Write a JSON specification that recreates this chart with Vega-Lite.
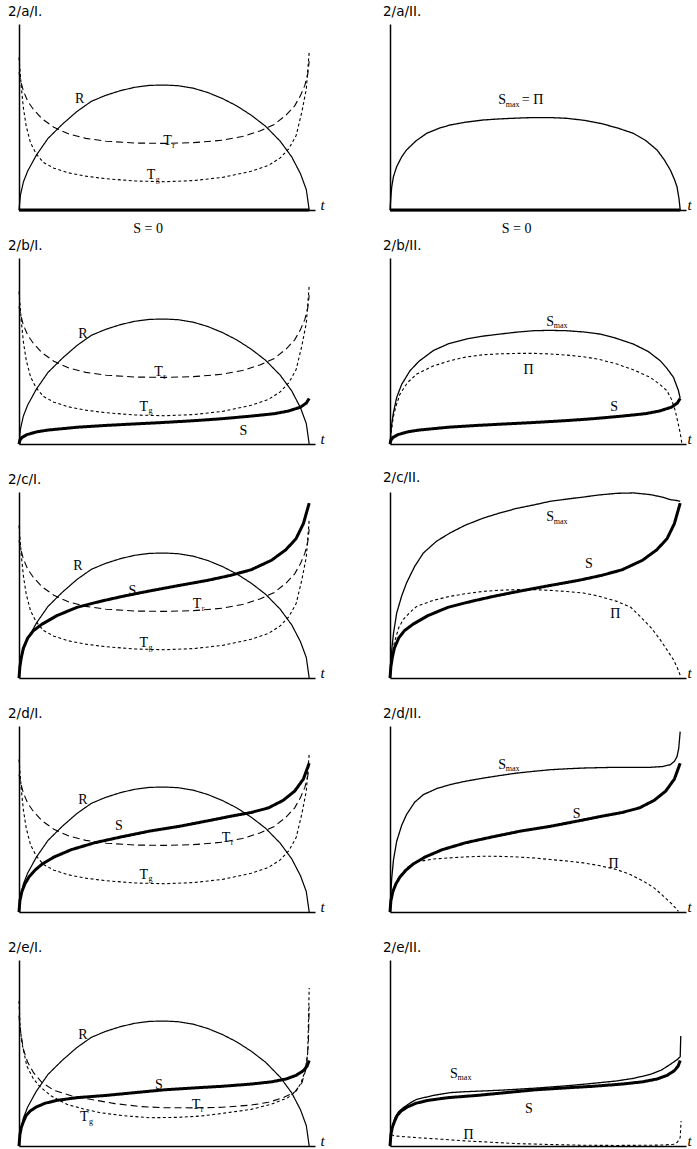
{
"$schema": "https://vega.github.io/schema/vega-lite/v6.json",
"background": "white",
"padding": {"left": 8, "top": 4, "right": 0, "bottom": 0},
"bounds": "flush",
"columns": 2,
"spacing": {"row": 48, "column": 75},
"datasets": {
"curves": [
{"g":"R","s":"R","t":0,"v":0},{"g":"R","s":"R","t":0.005,"v":0.08},{"g":"R","s":"R","t":0.015,"v":0.15},{"g":"R","s":"R","t":0.03,"v":0.21},{"g":"R","s":"R","t":0.06,"v":0.295},{"g":"R","s":"R","t":0.1,"v":0.385},{"g":"R","s":"R","t":0.15,"v":0.462},{"g":"R","s":"R","t":0.2,"v":0.53},{"g":"R","s":"R","t":0.25,"v":0.585},{"g":"R","s":"R","t":0.3,"v":0.617},{"g":"R","s":"R","t":0.35,"v":0.642},{"g":"R","s":"R","t":0.4,"v":0.66},{"g":"R","s":"R","t":0.45,"v":0.67},{"g":"R","s":"R","t":0.5,"v":0.672},{"g":"R","s":"R","t":0.55,"v":0.668},{"g":"R","s":"R","t":0.6,"v":0.655},{"g":"R","s":"R","t":0.65,"v":0.632},{"g":"R","s":"R","t":0.7,"v":0.6},{"g":"R","s":"R","t":0.75,"v":0.56},{"g":"R","s":"R","t":0.8,"v":0.51},{"g":"R","s":"R","t":0.85,"v":0.45},{"g":"R","s":"R","t":0.9,"v":0.37},{"g":"R","s":"R","t":0.94,"v":0.285},{"g":"R","s":"R","t":0.97,"v":0.195},{"g":"R","s":"R","t":0.99,"v":0.11},{"g":"R","s":"R","t":1.0,"v":0},
{"g":"Tr","s":"Tr","t":0,"v":0.74},{"g":"Tr","s":"Tr","t":0.005,"v":0.7},{"g":"Tr","s":"Tr","t":0.015,"v":0.64},{"g":"Tr","s":"Tr","t":0.03,"v":0.585},{"g":"Tr","s":"Tr","t":0.05,"v":0.54},{"g":"Tr","s":"Tr","t":0.08,"v":0.49},{"g":"Tr","s":"Tr","t":0.12,"v":0.445},{"g":"Tr","s":"Tr","t":0.17,"v":0.41},{"g":"Tr","s":"Tr","t":0.23,"v":0.385},{"g":"Tr","s":"Tr","t":0.3,"v":0.37},{"g":"Tr","s":"Tr","t":0.4,"v":0.36},{"g":"Tr","s":"Tr","t":0.5,"v":0.358},{"g":"Tr","s":"Tr","t":0.6,"v":0.362},{"g":"Tr","s":"Tr","t":0.7,"v":0.375},{"g":"Tr","s":"Tr","t":0.77,"v":0.395},{"g":"Tr","s":"Tr","t":0.83,"v":0.425},{"g":"Tr","s":"Tr","t":0.88,"v":0.46},{"g":"Tr","s":"Tr","t":0.92,"v":0.51},{"g":"Tr","s":"Tr","t":0.95,"v":0.56},{"g":"Tr","s":"Tr","t":0.97,"v":0.615},{"g":"Tr","s":"Tr","t":0.985,"v":0.67},{"g":"Tr","s":"Tr","t":0.995,"v":0.73},{"g":"Tr","s":"Tr","t":1.0,"v":0.8},
{"g":"Tg","s":"Tg","t":0,"v":0.82},{"g":"Tg","s":"Tg","t":0.003,"v":0.76},{"g":"Tg","s":"Tg","t":0.008,"v":0.66},{"g":"Tg","s":"Tg","t":0.015,"v":0.55},{"g":"Tg","s":"Tg","t":0.025,"v":0.45},{"g":"Tg","s":"Tg","t":0.04,"v":0.36},{"g":"Tg","s":"Tg","t":0.06,"v":0.3},{"g":"Tg","s":"Tg","t":0.085,"v":0.255},{"g":"Tg","s":"Tg","t":0.12,"v":0.225},{"g":"Tg","s":"Tg","t":0.17,"v":0.2},{"g":"Tg","s":"Tg","t":0.23,"v":0.182},{"g":"Tg","s":"Tg","t":0.3,"v":0.168},{"g":"Tg","s":"Tg","t":0.4,"v":0.156},{"g":"Tg","s":"Tg","t":0.5,"v":0.152},{"g":"Tg","s":"Tg","t":0.6,"v":0.158},{"g":"Tg","s":"Tg","t":0.7,"v":0.175},{"g":"Tg","s":"Tg","t":0.8,"v":0.208},{"g":"Tg","s":"Tg","t":0.86,"v":0.24},{"g":"Tg","s":"Tg","t":0.9,"v":0.28},{"g":"Tg","s":"Tg","t":0.93,"v":0.33},{"g":"Tg","s":"Tg","t":0.955,"v":0.4},{"g":"Tg","s":"Tg","t":0.975,"v":0.53},{"g":"Tg","s":"Tg","t":0.99,"v":0.65},{"g":"Tg","s":"Tg","t":1.0,"v":0.85},
{"g":"TrE","s":"Tr","t":0,"v":0.7},{"g":"TrE","s":"Tr","t":0.005,"v":0.62},{"g":"TrE","s":"Tr","t":0.015,"v":0.52},{"g":"TrE","s":"Tr","t":0.03,"v":0.45},{"g":"TrE","s":"Tr","t":0.05,"v":0.394},{"g":"TrE","s":"Tr","t":0.08,"v":0.34},{"g":"TrE","s":"Tr","t":0.12,"v":0.3},{"g":"TrE","s":"Tr","t":0.18,"v":0.27},{"g":"TrE","s":"Tr","t":0.25,"v":0.25},{"g":"TrE","s":"Tr","t":0.33,"v":0.228},{"g":"TrE","s":"Tr","t":0.42,"v":0.212},{"g":"TrE","s":"Tr","t":0.5,"v":0.206},{"g":"TrE","s":"Tr","t":0.6,"v":0.205},{"g":"TrE","s":"Tr","t":0.7,"v":0.208},{"g":"TrE","s":"Tr","t":0.8,"v":0.22},{"g":"TrE","s":"Tr","t":0.86,"v":0.235},{"g":"TrE","s":"Tr","t":0.91,"v":0.26},{"g":"TrE","s":"Tr","t":0.95,"v":0.29},{"g":"TrE","s":"Tr","t":0.975,"v":0.34},{"g":"TrE","s":"Tr","t":0.99,"v":0.42},{"g":"TrE","s":"Tr","t":0.997,"v":0.55},{"g":"TrE","s":"Tr","t":1.0,"v":0.75},
{"g":"TgE","s":"Tg","t":0,"v":0.78},{"g":"TgE","s":"Tg","t":0.004,"v":0.64},{"g":"TgE","s":"Tg","t":0.01,"v":0.555},{"g":"TgE","s":"Tg","t":0.027,"v":0.43},{"g":"TgE","s":"Tg","t":0.05,"v":0.36},{"g":"TgE","s":"Tg","t":0.071,"v":0.321},{"g":"TgE","s":"Tg","t":0.11,"v":0.27},{"g":"TgE","s":"Tg","t":0.165,"v":0.224},{"g":"TgE","s":"Tg","t":0.22,"v":0.2},{"g":"TgE","s":"Tg","t":0.28,"v":0.179},{"g":"TgE","s":"Tg","t":0.36,"v":0.163},{"g":"TgE","s":"Tg","t":0.45,"v":0.152},{"g":"TgE","s":"Tg","t":0.55,"v":0.154},{"g":"TgE","s":"Tg","t":0.626,"v":0.161},{"g":"TgE","s":"Tg","t":0.7,"v":0.175},{"g":"TgE","s":"Tg","t":0.8,"v":0.197},{"g":"TgE","s":"Tg","t":0.87,"v":0.225},{"g":"TgE","s":"Tg","t":0.926,"v":0.259},{"g":"TgE","s":"Tg","t":0.955,"v":0.295},{"g":"TgE","s":"Tg","t":0.972,"v":0.34},{"g":"TgE","s":"Tg","t":0.985,"v":0.4},{"g":"TgE","s":"Tg","t":0.995,"v":0.5},{"g":"TgE","s":"Tg","t":1.0,"v":0.85},
{"g":"Sa","s":"S","t":0,"v":0},{"g":"Sa","s":"S","t":1.0,"v":0},
{"g":"Sb","s":"S","t":0,"v":0},{"g":"Sb","s":"S","t":0.003,"v":0.02},{"g":"Sb","s":"S","t":0.01,"v":0.035},{"g":"Sb","s":"S","t":0.027,"v":0.05},{"g":"Sb","s":"S","t":0.06,"v":0.065},{"g":"Sb","s":"S","t":0.1,"v":0.075},{"g":"Sb","s":"S","t":0.2,"v":0.09},{"g":"Sb","s":"S","t":0.3,"v":0.1},{"g":"Sb","s":"S","t":0.4,"v":0.108},{"g":"Sb","s":"S","t":0.5,"v":0.116},{"g":"Sb","s":"S","t":0.6,"v":0.125},{"g":"Sb","s":"S","t":0.7,"v":0.136},{"g":"Sb","s":"S","t":0.8,"v":0.15},{"g":"Sb","s":"S","t":0.88,"v":0.163},{"g":"Sb","s":"S","t":0.93,"v":0.178},{"g":"Sb","s":"S","t":0.97,"v":0.198},{"g":"Sb","s":"S","t":0.99,"v":0.22},{"g":"Sb","s":"S","t":1.0,"v":0.245},
{"g":"Sc","s":"S","t":0,"v":0},{"g":"Sc","s":"S","t":0.003,"v":0.06},{"g":"Sc","s":"S","t":0.008,"v":0.11},{"g":"Sc","s":"S","t":0.015,"v":0.16},{"g":"Sc","s":"S","t":0.03,"v":0.215},{"g":"Sc","s":"S","t":0.05,"v":0.255},{"g":"Sc","s":"S","t":0.08,"v":0.29},{"g":"Sc","s":"S","t":0.13,"v":0.335},{"g":"Sc","s":"S","t":0.2,"v":0.38},{"g":"Sc","s":"S","t":0.28,"v":0.412},{"g":"Sc","s":"S","t":0.36,"v":0.44},{"g":"Sc","s":"S","t":0.45,"v":0.468},{"g":"Sc","s":"S","t":0.55,"v":0.497},{"g":"Sc","s":"S","t":0.65,"v":0.525},{"g":"Sc","s":"S","t":0.73,"v":0.552},{"g":"Sc","s":"S","t":0.8,"v":0.582},{"g":"Sc","s":"S","t":0.87,"v":0.633},{"g":"Sc","s":"S","t":0.92,"v":0.69},{"g":"Sc","s":"S","t":0.955,"v":0.75},{"g":"Sc","s":"S","t":0.98,"v":0.83},{"g":"Sc","s":"S","t":1.0,"v":0.94},
{"g":"Sd","s":"S","t":0,"v":0},{"g":"Sd","s":"S","t":0.003,"v":0.06},{"g":"Sd","s":"S","t":0.01,"v":0.11},{"g":"Sd","s":"S","t":0.02,"v":0.15},{"g":"Sd","s":"S","t":0.035,"v":0.19},{"g":"Sd","s":"S","t":0.055,"v":0.225},{"g":"Sd","s":"S","t":0.08,"v":0.258},{"g":"Sd","s":"S","t":0.12,"v":0.295},{"g":"Sd","s":"S","t":0.18,"v":0.335},{"g":"Sd","s":"S","t":0.26,"v":0.372},{"g":"Sd","s":"S","t":0.35,"v":0.403},{"g":"Sd","s":"S","t":0.45,"v":0.435},{"g":"Sd","s":"S","t":0.55,"v":0.46},{"g":"Sd","s":"S","t":0.65,"v":0.49},{"g":"Sd","s":"S","t":0.73,"v":0.515},{"g":"Sd","s":"S","t":0.8,"v":0.535},{"g":"Sd","s":"S","t":0.86,"v":0.56},{"g":"Sd","s":"S","t":0.91,"v":0.6},{"g":"Sd","s":"S","t":0.95,"v":0.65},{"g":"Sd","s":"S","t":0.98,"v":0.715},{"g":"Sd","s":"S","t":1.0,"v":0.8},
{"g":"Se","s":"S","t":0,"v":0},{"g":"Se","s":"S","t":0.003,"v":0.06},{"g":"Se","s":"S","t":0.008,"v":0.1},{"g":"Se","s":"S","t":0.015,"v":0.13},{"g":"Se","s":"S","t":0.025,"v":0.165},{"g":"Se","s":"S","t":0.04,"v":0.19},{"g":"Se","s":"S","t":0.06,"v":0.21},{"g":"Se","s":"S","t":0.09,"v":0.23},{"g":"Se","s":"S","t":0.13,"v":0.245},{"g":"Se","s":"S","t":0.2,"v":0.26},{"g":"Se","s":"S","t":0.3,"v":0.272},{"g":"Se","s":"S","t":0.4,"v":0.287},{"g":"Se","s":"S","t":0.5,"v":0.302},{"g":"Se","s":"S","t":0.6,"v":0.312},{"g":"Se","s":"S","t":0.7,"v":0.321},{"g":"Se","s":"S","t":0.8,"v":0.333},{"g":"Se","s":"S","t":0.87,"v":0.345},{"g":"Se","s":"S","t":0.92,"v":0.36},{"g":"Se","s":"S","t":0.955,"v":0.38},{"g":"Se","s":"S","t":0.98,"v":0.405},{"g":"Se","s":"S","t":0.993,"v":0.43},{"g":"Se","s":"S","t":1.0,"v":0.46},
{"g":"Ma","s":"Smax","t":0,"v":0},{"g":"Ma","s":"Smax","t":0.003,"v":0.07},{"g":"Ma","s":"Smax","t":0.006,"v":0.125},{"g":"Ma","s":"Smax","t":0.012,"v":0.18},{"g":"Ma","s":"Smax","t":0.023,"v":0.233},{"g":"Ma","s":"Smax","t":0.04,"v":0.285},{"g":"Ma","s":"Smax","t":0.057,"v":0.323},{"g":"Ma","s":"Smax","t":0.09,"v":0.372},{"g":"Ma","s":"Smax","t":0.126,"v":0.412},{"g":"Ma","s":"Smax","t":0.17,"v":0.44},{"g":"Ma","s":"Smax","t":0.207,"v":0.457},{"g":"Ma","s":"Smax","t":0.26,"v":0.472},{"g":"Ma","s":"Smax","t":0.322,"v":0.484},{"g":"Ma","s":"Smax","t":0.38,"v":0.49},{"g":"Ma","s":"Smax","t":0.437,"v":0.494},{"g":"Ma","s":"Smax","t":0.494,"v":0.497},{"g":"Ma","s":"Smax","t":0.55,"v":0.497},{"g":"Ma","s":"Smax","t":0.609,"v":0.493},{"g":"Ma","s":"Smax","t":0.67,"v":0.482},{"g":"Ma","s":"Smax","t":0.724,"v":0.466},{"g":"Ma","s":"Smax","t":0.78,"v":0.443},{"g":"Ma","s":"Smax","t":0.839,"v":0.412},{"g":"Ma","s":"Smax","t":0.88,"v":0.375},{"g":"Ma","s":"Smax","t":0.92,"v":0.323},{"g":"Ma","s":"Smax","t":0.945,"v":0.27},{"g":"Ma","s":"Smax","t":0.966,"v":0.215},{"g":"Ma","s":"Smax","t":0.98,"v":0.165},{"g":"Ma","s":"Smax","t":0.989,"v":0.125},{"g":"Ma","s":"Smax","t":0.996,"v":0.06},{"g":"Ma","s":"Smax","t":1.0,"v":0},
{"g":"Mb","s":"Smax","t":0,"v":0},{"g":"Mb","s":"Smax","t":0.003,"v":0.06},{"g":"Mb","s":"Smax","t":0.006,"v":0.108},{"g":"Mb","s":"Smax","t":0.012,"v":0.17},{"g":"Mb","s":"Smax","t":0.023,"v":0.25},{"g":"Mb","s":"Smax","t":0.04,"v":0.32},{"g":"Mb","s":"Smax","t":0.069,"v":0.394},{"g":"Mb","s":"Smax","t":0.1,"v":0.445},{"g":"Mb","s":"Smax","t":0.149,"v":0.502},{"g":"Mb","s":"Smax","t":0.2,"v":0.538},{"g":"Mb","s":"Smax","t":0.264,"v":0.565},{"g":"Mb","s":"Smax","t":0.32,"v":0.58},{"g":"Mb","s":"Smax","t":0.379,"v":0.591},{"g":"Mb","s":"Smax","t":0.44,"v":0.602},{"g":"Mb","s":"Smax","t":0.494,"v":0.609},{"g":"Mb","s":"Smax","t":0.55,"v":0.611},{"g":"Mb","s":"Smax","t":0.609,"v":0.609},{"g":"Mb","s":"Smax","t":0.67,"v":0.602},{"g":"Mb","s":"Smax","t":0.724,"v":0.591},{"g":"Mb","s":"Smax","t":0.78,"v":0.568},{"g":"Mb","s":"Smax","t":0.839,"v":0.537},{"g":"Mb","s":"Smax","t":0.89,"v":0.497},{"g":"Mb","s":"Smax","t":0.931,"v":0.448},{"g":"Mb","s":"Smax","t":0.955,"v":0.405},{"g":"Mb","s":"Smax","t":0.977,"v":0.358},{"g":"Mb","s":"Smax","t":0.994,"v":0.287},{"g":"Mb","s":"Smax","t":1.0,"v":0.245},
{"g":"Mc","s":"Smax","t":0,"v":0},{"g":"Mc","s":"Smax","t":0.003,"v":0.09},{"g":"Mc","s":"Smax","t":0.006,"v":0.152},{"g":"Mc","s":"Smax","t":0.012,"v":0.24},{"g":"Mc","s":"Smax","t":0.023,"v":0.349},{"g":"Mc","s":"Smax","t":0.04,"v":0.44},{"g":"Mc","s":"Smax","t":0.057,"v":0.511},{"g":"Mc","s":"Smax","t":0.085,"v":0.6},{"g":"Mc","s":"Smax","t":0.115,"v":0.672},{"g":"Mc","s":"Smax","t":0.16,"v":0.735},{"g":"Mc","s":"Smax","t":0.207,"v":0.78},{"g":"Mc","s":"Smax","t":0.26,"v":0.822},{"g":"Mc","s":"Smax","t":0.322,"v":0.86},{"g":"Mc","s":"Smax","t":0.38,"v":0.888},{"g":"Mc","s":"Smax","t":0.437,"v":0.912},{"g":"Mc","s":"Smax","t":0.5,"v":0.932},{"g":"Mc","s":"Smax","t":0.552,"v":0.95},{"g":"Mc","s":"Smax","t":0.61,"v":0.962},{"g":"Mc","s":"Smax","t":0.667,"v":0.973},{"g":"Mc","s":"Smax","t":0.72,"v":0.984},{"g":"Mc","s":"Smax","t":0.782,"v":0.993},{"g":"Mc","s":"Smax","t":0.84,"v":0.995},{"g":"Mc","s":"Smax","t":0.897,"v":0.986},{"g":"Mc","s":"Smax","t":0.94,"v":0.972},{"g":"Mc","s":"Smax","t":0.966,"v":0.959},{"g":"Mc","s":"Smax","t":0.985,"v":0.955},{"g":"Mc","s":"Smax","t":1.0,"v":0.95},
{"g":"Md","s":"Smax","t":0,"v":0},{"g":"Md","s":"Smax","t":0.003,"v":0.1},{"g":"Md","s":"Smax","t":0.006,"v":0.183},{"g":"Md","s":"Smax","t":0.012,"v":0.28},{"g":"Md","s":"Smax","t":0.023,"v":0.38},{"g":"Md","s":"Smax","t":0.04,"v":0.465},{"g":"Md","s":"Smax","t":0.057,"v":0.524},{"g":"Md","s":"Smax","t":0.085,"v":0.59},{"g":"Md","s":"Smax","t":0.115,"v":0.631},{"g":"Md","s":"Smax","t":0.16,"v":0.663},{"g":"Md","s":"Smax","t":0.207,"v":0.685},{"g":"Md","s":"Smax","t":0.26,"v":0.703},{"g":"Md","s":"Smax","t":0.322,"v":0.72},{"g":"Md","s":"Smax","t":0.38,"v":0.734},{"g":"Md","s":"Smax","t":0.437,"v":0.747},{"g":"Md","s":"Smax","t":0.5,"v":0.757},{"g":"Md","s":"Smax","t":0.552,"v":0.765},{"g":"Md","s":"Smax","t":0.61,"v":0.77},{"g":"Md","s":"Smax","t":0.667,"v":0.774},{"g":"Md","s":"Smax","t":0.72,"v":0.776},{"g":"Md","s":"Smax","t":0.782,"v":0.778},{"g":"Md","s":"Smax","t":0.84,"v":0.778},{"g":"Md","s":"Smax","t":0.897,"v":0.778},{"g":"Md","s":"Smax","t":0.94,"v":0.782},{"g":"Md","s":"Smax","t":0.966,"v":0.792},{"g":"Md","s":"Smax","t":0.98,"v":0.81},{"g":"Md","s":"Smax","t":0.989,"v":0.835},{"g":"Md","s":"Smax","t":0.995,"v":0.88},{"g":"Md","s":"Smax","t":1.0,"v":0.97},
{"g":"Me","s":"Smax","t":0,"v":0},{"g":"Me","s":"Smax","t":0.004,"v":0.07},{"g":"Me","s":"Smax","t":0.01,"v":0.115},{"g":"Me","s":"Smax","t":0.017,"v":0.152},{"g":"Me","s":"Smax","t":0.03,"v":0.185},{"g":"Me","s":"Smax","t":0.046,"v":0.206},{"g":"Me","s":"Smax","t":0.07,"v":0.232},{"g":"Me","s":"Smax","t":0.092,"v":0.251},{"g":"Me","s":"Smax","t":0.15,"v":0.272},{"g":"Me","s":"Smax","t":0.207,"v":0.287},{"g":"Me","s":"Smax","t":0.26,"v":0.292},{"g":"Me","s":"Smax","t":0.322,"v":0.296},{"g":"Me","s":"Smax","t":0.38,"v":0.3},{"g":"Me","s":"Smax","t":0.437,"v":0.305},{"g":"Me","s":"Smax","t":0.5,"v":0.311},{"g":"Me","s":"Smax","t":0.552,"v":0.317},{"g":"Me","s":"Smax","t":0.61,"v":0.324},{"g":"Me","s":"Smax","t":0.667,"v":0.332},{"g":"Me","s":"Smax","t":0.72,"v":0.34},{"g":"Me","s":"Smax","t":0.782,"v":0.35},{"g":"Me","s":"Smax","t":0.84,"v":0.364},{"g":"Me","s":"Smax","t":0.897,"v":0.385},{"g":"Me","s":"Smax","t":0.935,"v":0.408},{"g":"Me","s":"Smax","t":0.966,"v":0.439},{"g":"Me","s":"Smax","t":0.99,"v":0.465},{"g":"Me","s":"Smax","t":1.0,"v":0.48},{"g":"Me","s":"Smax","t":1.002,"v":0.591},
{"g":"Pb","s":"Pi","t":0,"v":0},{"g":"Pb","s":"Pi","t":0.004,"v":0.06},{"g":"Pb","s":"Pi","t":0.011,"v":0.143},{"g":"Pb","s":"Pi","t":0.02,"v":0.2},{"g":"Pb","s":"Pi","t":0.034,"v":0.267},{"g":"Pb","s":"Pi","t":0.06,"v":0.33},{"g":"Pb","s":"Pi","t":0.092,"v":0.376},{"g":"Pb","s":"Pi","t":0.15,"v":0.42},{"g":"Pb","s":"Pi","t":0.207,"v":0.448},{"g":"Pb","s":"Pi","t":0.26,"v":0.467},{"g":"Pb","s":"Pi","t":0.322,"v":0.48},{"g":"Pb","s":"Pi","t":0.38,"v":0.485},{"g":"Pb","s":"Pi","t":0.437,"v":0.487},{"g":"Pb","s":"Pi","t":0.5,"v":0.487},{"g":"Pb","s":"Pi","t":0.552,"v":0.484},{"g":"Pb","s":"Pi","t":0.61,"v":0.478},{"g":"Pb","s":"Pi","t":0.667,"v":0.469},{"g":"Pb","s":"Pi","t":0.72,"v":0.455},{"g":"Pb","s":"Pi","t":0.782,"v":0.43},{"g":"Pb","s":"Pi","t":0.84,"v":0.398},{"g":"Pb","s":"Pi","t":0.897,"v":0.358},{"g":"Pb","s":"Pi","t":0.93,"v":0.32},{"g":"Pb","s":"Pi","t":0.954,"v":0.287},{"g":"Pb","s":"Pi","t":0.97,"v":0.24},{"g":"Pb","s":"Pi","t":0.983,"v":0.179},{"g":"Pb","s":"Pi","t":0.993,"v":0.11},{"g":"Pb","s":"Pi","t":1.0,"v":0.06},{"g":"Pb","s":"Pi","t":1.006,"v":0},
{"g":"Pc","s":"Pi","t":0,"v":0},{"g":"Pc","s":"Pi","t":0.005,"v":0.1},{"g":"Pc","s":"Pi","t":0.015,"v":0.19},{"g":"Pc","s":"Pi","t":0.03,"v":0.27},{"g":"Pc","s":"Pi","t":0.046,"v":0.315},{"g":"Pc","s":"Pi","t":0.07,"v":0.355},{"g":"Pc","s":"Pi","t":0.092,"v":0.385},{"g":"Pc","s":"Pi","t":0.15,"v":0.418},{"g":"Pc","s":"Pi","t":0.207,"v":0.439},{"g":"Pc","s":"Pi","t":0.26,"v":0.453},{"g":"Pc","s":"Pi","t":0.322,"v":0.466},{"g":"Pc","s":"Pi","t":0.38,"v":0.472},{"g":"Pc","s":"Pi","t":0.437,"v":0.475},{"g":"Pc","s":"Pi","t":0.5,"v":0.475},{"g":"Pc","s":"Pi","t":0.552,"v":0.471},{"g":"Pc","s":"Pi","t":0.61,"v":0.465},{"g":"Pc","s":"Pi","t":0.667,"v":0.457},{"g":"Pc","s":"Pi","t":0.72,"v":0.44},{"g":"Pc","s":"Pi","t":0.782,"v":0.412},{"g":"Pc","s":"Pi","t":0.83,"v":0.38},{"g":"Pc","s":"Pi","t":0.862,"v":0.331},{"g":"Pc","s":"Pi","t":0.9,"v":0.27},{"g":"Pc","s":"Pi","t":0.931,"v":0.206},{"g":"Pc","s":"Pi","t":0.955,"v":0.15},{"g":"Pc","s":"Pi","t":0.977,"v":0.098},{"g":"Pc","s":"Pi","t":0.99,"v":0.055},{"g":"Pc","s":"Pi","t":1.0,"v":0.015},
{"g":"Pd","s":"Pi","t":0,"v":0},{"g":"Pd","s":"Pi","t":0.005,"v":0.08},{"g":"Pd","s":"Pi","t":0.015,"v":0.14},{"g":"Pd","s":"Pi","t":0.03,"v":0.185},{"g":"Pd","s":"Pi","t":0.057,"v":0.237},{"g":"Pd","s":"Pi","t":0.092,"v":0.27},{"g":"Pd","s":"Pi","t":0.15,"v":0.285},{"g":"Pd","s":"Pi","t":0.207,"v":0.291},{"g":"Pd","s":"Pi","t":0.26,"v":0.296},{"g":"Pd","s":"Pi","t":0.322,"v":0.3},{"g":"Pd","s":"Pi","t":0.38,"v":0.299},{"g":"Pd","s":"Pi","t":0.437,"v":0.296},{"g":"Pd","s":"Pi","t":0.5,"v":0.29},{"g":"Pd","s":"Pi","t":0.552,"v":0.282},{"g":"Pd","s":"Pi","t":0.61,"v":0.274},{"g":"Pd","s":"Pi","t":0.667,"v":0.264},{"g":"Pd","s":"Pi","t":0.72,"v":0.25},{"g":"Pd","s":"Pi","t":0.782,"v":0.228},{"g":"Pd","s":"Pi","t":0.83,"v":0.2},{"g":"Pd","s":"Pi","t":0.874,"v":0.165},{"g":"Pd","s":"Pi","t":0.91,"v":0.13},{"g":"Pd","s":"Pi","t":0.943,"v":0.084},{"g":"Pd","s":"Pi","t":0.97,"v":0.045},{"g":"Pd","s":"Pi","t":0.994,"v":0.004},
{"g":"Pe","s":"Pi","t":0,"v":0},{"g":"Pe","s":"Pi","t":0.005,"v":0.06},{"g":"Pe","s":"Pi","t":0.017,"v":0.054},{"g":"Pe","s":"Pi","t":0.05,"v":0.05},{"g":"Pe","s":"Pi","t":0.092,"v":0.045},{"g":"Pe","s":"Pi","t":0.18,"v":0.036},{"g":"Pe","s":"Pi","t":0.264,"v":0.027},{"g":"Pe","s":"Pi","t":0.35,"v":0.02},{"g":"Pe","s":"Pi","t":0.437,"v":0.013},{"g":"Pe","s":"Pi","t":0.55,"v":0.008},{"g":"Pe","s":"Pi","t":0.667,"v":0.004},{"g":"Pe","s":"Pi","t":0.78,"v":0.003},{"g":"Pe","s":"Pi","t":0.897,"v":0.004},{"g":"Pe","s":"Pi","t":0.95,"v":0.006},{"g":"Pe","s":"Pi","t":0.977,"v":0.009},{"g":"Pe","s":"Pi","t":0.99,"v":0.02},{"g":"Pe","s":"Pi","t":1.0,"v":0.045},{"g":"Pe","s":"Pi","t":1.003,"v":0.134}
],
"labels": [
{"p":"aI","k":"main","t":0.193,"v":0.575,"text":"R"},{"p":"aI","k":"main","t":0.497,"v":0.351,"text":"T"},{"p":"aI","k":"sub","t":0.528,"v":0.336,"text":"r"},{"p":"aI","k":"main","t":0.44,"v":0.167,"text":"T"},{"p":"aI","k":"sub","t":0.471,"v":0.152,"text":"g"},{"p":"aI","k":"main","t":0.394,"v":-0.125,"text":"S = 0"},
{"p":"aII","k":"main","t":0.373,"v":0.57,"text":"S"},{"p":"aII","k":"sub","t":0.399,"v":0.556,"text":"max"},{"p":"aII","k":"main","t":0.454,"v":0.57,"text":"= Π"},{"p":"aII","k":"main","t":0.385,"v":-0.125,"text":"S = 0"},
{"p":"bI","k":"main","t":0.204,"v":0.57,"text":"R"},{"p":"bI","k":"main","t":0.466,"v":0.367,"text":"T"},{"p":"bI","k":"sub","t":0.497,"v":0.352,"text":"r"},{"p":"bI","k":"main","t":0.415,"v":0.179,"text":"T"},{"p":"bI","k":"sub","t":0.446,"v":0.164,"text":"g"},{"p":"bI","k":"main","t":0.76,"v":0.05,"text":"S"},
{"p":"bII","k":"main","t":0.538,"v":0.636,"text":"S"},{"p":"bII","k":"sub","t":0.564,"v":0.622,"text":"max"},{"p":"bII","k":"main","t":0.46,"v":0.376,"text":"Π"},{"p":"bII","k":"main","t":0.759,"v":0.179,"text":"S"},
{"p":"cI","k":"main","t":0.187,"v":0.579,"text":"R"},{"p":"cI","k":"main","t":0.377,"v":0.444,"text":"S"},{"p":"cI","k":"main","t":0.599,"v":0.376,"text":"T"},{"p":"cI","k":"sub","t":0.63,"v":0.361,"text":"r"},{"p":"cI","k":"main","t":0.415,"v":0.167,"text":"T"},{"p":"cI","k":"sub","t":0.446,"v":0.152,"text":"g"},
{"p":"cII","k":"main","t":0.538,"v":0.842,"text":"S"},{"p":"cII","k":"sub","t":0.564,"v":0.828,"text":"max"},{"p":"cII","k":"main","t":0.672,"v":0.591,"text":"S"},{"p":"cII","k":"main","t":0.759,"v":0.323,"text":"Π"},
{"p":"dI","k":"main","t":0.204,"v":0.583,"text":"R"},{"p":"dI","k":"main","t":0.331,"v":0.439,"text":"S"},{"p":"dI","k":"main","t":0.699,"v":0.376,"text":"T"},{"p":"dI","k":"sub","t":0.73,"v":0.361,"text":"r"},{"p":"dI","k":"main","t":0.415,"v":0.18,"text":"T"},{"p":"dI","k":"sub","t":0.446,"v":0.165,"text":"g"},
{"p":"dII","k":"main","t":0.373,"v":0.771,"text":"S"},{"p":"dII","k":"sub","t":0.399,"v":0.757,"text":"max"},{"p":"dII","k":"main","t":0.63,"v":0.505,"text":"S"},{"p":"dII","k":"main","t":0.753,"v":0.237,"text":"Π"},
{"p":"eI","k":"main","t":0.204,"v":0.574,"text":"R"},{"p":"eI","k":"main","t":0.469,"v":0.305,"text":"S"},{"p":"eI","k":"main","t":0.595,"v":0.197,"text":"T"},{"p":"eI","k":"sub","t":0.626,"v":0.182,"text":"r"},{"p":"eI","k":"main","t":0.21,"v":0.134,"text":"T"},{"p":"eI","k":"sub","t":0.241,"v":0.119,"text":"g"},
{"p":"eII","k":"main","t":0.207,"v":0.367,"text":"S"},{"p":"eII","k":"sub","t":0.233,"v":0.353,"text":"max"},{"p":"eII","k":"main","t":0.465,"v":0.179,"text":"S"},{"p":"eII","k":"main","t":0.253,"v":0.036,"text":"Π"}
]
},
"concat": [
{"width":296,"height":186,"title":{"text":"2/a/I.","dx":-11},
"encoding":{"x":{"field":"t","type":"quantitative","scale":{"domain":[0,1.02],"nice":false,"zero":false},"title":"t"},"y":{"field":"v","type":"quantitative","scale":{"domain":[0,1],"nice":false},"title":null}},
"layer":[
{"data":{"name":"curves"},"transform":[{"filter":{"field":"g","oneOf":["R","Tr","Tg","Sa"]}}],"mark":{"type":"line","color":"black"},"encoding":{"detail":{"field":"g"},"strokeDash":{"field":"s","type":"nominal","scale":{"type":"ordinal","domain":["R","Tr","Tg","S","Smax","Pi"],"range":[[1,0],[7,4],[3,2.5],[1,0],[1,0],[3,2.5]]},"legend":null},"strokeWidth":{"field":"s","type":"nominal","scale":{"type":"ordinal","domain":["R","Tr","Tg","S","Smax","Pi"],"range":[1.2,1.1,1.1,3,1.3,1.1]},"legend":null}}},
{"data":{"name":"labels"},"transform":[{"filter":{"field":"p","equal":"aI"}}],"mark":{"type":"text"},"encoding":{"text":{"field":"text"},"size":{"field":"k","type":"nominal","scale":{"type":"ordinal","domain":["main","sub"],"range":[14,8]},"legend":null}}}
]},
{"width":296,"height":186,"title":{"text":"2/a/II.","dx":-7},
"encoding":{"x":{"field":"t","type":"quantitative","scale":{"domain":[0,1.02],"nice":false,"zero":false},"title":"t","axis":{"titleX":297}},"y":{"field":"v","type":"quantitative","scale":{"domain":[0,1],"nice":false},"title":null}},
"layer":[
{"data":{"name":"curves"},"transform":[{"filter":{"field":"g","oneOf":["Ma","Sa"]}}],"mark":{"type":"line","color":"black"},"encoding":{"detail":{"field":"g"},"strokeDash":{"field":"s","type":"nominal","scale":{"type":"ordinal","domain":["R","Tr","Tg","S","Smax","Pi"],"range":[[1,0],[7,4],[3,2.5],[1,0],[1,0],[3,2.5]]},"legend":null},"strokeWidth":{"field":"s","type":"nominal","scale":{"type":"ordinal","domain":["R","Tr","Tg","S","Smax","Pi"],"range":[1.2,1.1,1.1,3,1.3,1.1]},"legend":null}}},
{"data":{"name":"labels"},"transform":[{"filter":{"field":"p","equal":"aII"}}],"mark":{"type":"text"},"encoding":{"text":{"field":"text"},"size":{"field":"k","type":"nominal","scale":{"type":"ordinal","domain":["main","sub"],"range":[14,8]},"legend":null}}}
]},
{"width":296,"height":186,"title":{"text":"2/b/I.","dx":-11},
"encoding":{"x":{"field":"t","type":"quantitative","scale":{"domain":[0,1.02],"nice":false,"zero":false},"title":"t"},"y":{"field":"v","type":"quantitative","scale":{"domain":[0,1],"nice":false},"title":null}},
"layer":[
{"data":{"name":"curves"},"transform":[{"filter":{"field":"g","oneOf":["R","Tr","Tg","Sb"]}}],"mark":{"type":"line","color":"black"},"encoding":{"detail":{"field":"g"},"strokeDash":{"field":"s","type":"nominal","scale":{"type":"ordinal","domain":["R","Tr","Tg","S","Smax","Pi"],"range":[[1,0],[7,4],[3,2.5],[1,0],[1,0],[3,2.5]]},"legend":null},"strokeWidth":{"field":"s","type":"nominal","scale":{"type":"ordinal","domain":["R","Tr","Tg","S","Smax","Pi"],"range":[1.2,1.1,1.1,3,1.3,1.1]},"legend":null}}},
{"data":{"name":"labels"},"transform":[{"filter":{"field":"p","equal":"bI"}}],"mark":{"type":"text"},"encoding":{"text":{"field":"text"},"size":{"field":"k","type":"nominal","scale":{"type":"ordinal","domain":["main","sub"],"range":[14,8]},"legend":null}}}
]},
{"width":296,"height":186,"title":{"text":"2/b/II.","dx":-7},
"encoding":{"x":{"field":"t","type":"quantitative","scale":{"domain":[0,1.02],"nice":false,"zero":false},"title":"t","axis":{"titleX":297}},"y":{"field":"v","type":"quantitative","scale":{"domain":[0,1],"nice":false},"title":null}},
"layer":[
{"data":{"name":"curves"},"transform":[{"filter":{"field":"g","oneOf":["Mb","Pb","Sb"]}}],"mark":{"type":"line","color":"black"},"encoding":{"detail":{"field":"g"},"strokeDash":{"field":"s","type":"nominal","scale":{"type":"ordinal","domain":["R","Tr","Tg","S","Smax","Pi"],"range":[[1,0],[7,4],[3,2.5],[1,0],[1,0],[3,2.5]]},"legend":null},"strokeWidth":{"field":"s","type":"nominal","scale":{"type":"ordinal","domain":["R","Tr","Tg","S","Smax","Pi"],"range":[1.2,1.1,1.1,3,1.3,1.1]},"legend":null}}},
{"data":{"name":"labels"},"transform":[{"filter":{"field":"p","equal":"bII"}}],"mark":{"type":"text"},"encoding":{"text":{"field":"text"},"size":{"field":"k","type":"nominal","scale":{"type":"ordinal","domain":["main","sub"],"range":[14,8]},"legend":null}}}
]},
{"width":296,"height":186,"title":{"text":"2/c/I.","dx":-11},
"encoding":{"x":{"field":"t","type":"quantitative","scale":{"domain":[0,1.02],"nice":false,"zero":false},"title":"t"},"y":{"field":"v","type":"quantitative","scale":{"domain":[0,1],"nice":false},"title":null}},
"layer":[
{"data":{"name":"curves"},"transform":[{"filter":{"field":"g","oneOf":["R","Tr","Tg","Sc"]}}],"mark":{"type":"line","color":"black"},"encoding":{"detail":{"field":"g"},"strokeDash":{"field":"s","type":"nominal","scale":{"type":"ordinal","domain":["R","Tr","Tg","S","Smax","Pi"],"range":[[1,0],[7,4],[3,2.5],[1,0],[1,0],[3,2.5]]},"legend":null},"strokeWidth":{"field":"s","type":"nominal","scale":{"type":"ordinal","domain":["R","Tr","Tg","S","Smax","Pi"],"range":[1.2,1.1,1.1,3,1.3,1.1]},"legend":null}}},
{"data":{"name":"labels"},"transform":[{"filter":{"field":"p","equal":"cI"}}],"mark":{"type":"text"},"encoding":{"text":{"field":"text"},"size":{"field":"k","type":"nominal","scale":{"type":"ordinal","domain":["main","sub"],"range":[14,8]},"legend":null}}}
]},
{"width":296,"height":186,"title":{"text":"2/c/II.","dx":-7},
"encoding":{"x":{"field":"t","type":"quantitative","scale":{"domain":[0,1.02],"nice":false,"zero":false},"title":"t","axis":{"titleX":297}},"y":{"field":"v","type":"quantitative","scale":{"domain":[0,1],"nice":false},"title":null}},
"layer":[
{"data":{"name":"curves"},"transform":[{"filter":{"field":"g","oneOf":["Mc","Pc","Sc"]}}],"mark":{"type":"line","color":"black"},"encoding":{"detail":{"field":"g"},"strokeDash":{"field":"s","type":"nominal","scale":{"type":"ordinal","domain":["R","Tr","Tg","S","Smax","Pi"],"range":[[1,0],[7,4],[3,2.5],[1,0],[1,0],[3,2.5]]},"legend":null},"strokeWidth":{"field":"s","type":"nominal","scale":{"type":"ordinal","domain":["R","Tr","Tg","S","Smax","Pi"],"range":[1.2,1.1,1.1,3,1.3,1.1]},"legend":null}}},
{"data":{"name":"labels"},"transform":[{"filter":{"field":"p","equal":"cII"}}],"mark":{"type":"text"},"encoding":{"text":{"field":"text"},"size":{"field":"k","type":"nominal","scale":{"type":"ordinal","domain":["main","sub"],"range":[14,8]},"legend":null}}}
]},
{"width":296,"height":186,"title":{"text":"2/d/I.","dx":-11},
"encoding":{"x":{"field":"t","type":"quantitative","scale":{"domain":[0,1.02],"nice":false,"zero":false},"title":"t"},"y":{"field":"v","type":"quantitative","scale":{"domain":[0,1],"nice":false},"title":null}},
"layer":[
{"data":{"name":"curves"},"transform":[{"filter":{"field":"g","oneOf":["R","Tr","Tg","Sd"]}}],"mark":{"type":"line","color":"black"},"encoding":{"detail":{"field":"g"},"strokeDash":{"field":"s","type":"nominal","scale":{"type":"ordinal","domain":["R","Tr","Tg","S","Smax","Pi"],"range":[[1,0],[7,4],[3,2.5],[1,0],[1,0],[3,2.5]]},"legend":null},"strokeWidth":{"field":"s","type":"nominal","scale":{"type":"ordinal","domain":["R","Tr","Tg","S","Smax","Pi"],"range":[1.2,1.1,1.1,3,1.3,1.1]},"legend":null}}},
{"data":{"name":"labels"},"transform":[{"filter":{"field":"p","equal":"dI"}}],"mark":{"type":"text"},"encoding":{"text":{"field":"text"},"size":{"field":"k","type":"nominal","scale":{"type":"ordinal","domain":["main","sub"],"range":[14,8]},"legend":null}}}
]},
{"width":296,"height":186,"title":{"text":"2/d/II.","dx":-7},
"encoding":{"x":{"field":"t","type":"quantitative","scale":{"domain":[0,1.02],"nice":false,"zero":false},"title":"t","axis":{"titleX":297}},"y":{"field":"v","type":"quantitative","scale":{"domain":[0,1],"nice":false},"title":null}},
"layer":[
{"data":{"name":"curves"},"transform":[{"filter":{"field":"g","oneOf":["Md","Pd","Sd"]}}],"mark":{"type":"line","color":"black"},"encoding":{"detail":{"field":"g"},"strokeDash":{"field":"s","type":"nominal","scale":{"type":"ordinal","domain":["R","Tr","Tg","S","Smax","Pi"],"range":[[1,0],[7,4],[3,2.5],[1,0],[1,0],[3,2.5]]},"legend":null},"strokeWidth":{"field":"s","type":"nominal","scale":{"type":"ordinal","domain":["R","Tr","Tg","S","Smax","Pi"],"range":[1.2,1.1,1.1,3,1.3,1.1]},"legend":null}}},
{"data":{"name":"labels"},"transform":[{"filter":{"field":"p","equal":"dII"}}],"mark":{"type":"text"},"encoding":{"text":{"field":"text"},"size":{"field":"k","type":"nominal","scale":{"type":"ordinal","domain":["main","sub"],"range":[14,8]},"legend":null}}}
]},
{"width":296,"height":186,"title":{"text":"2/e/I.","dx":-11},
"encoding":{"x":{"field":"t","type":"quantitative","scale":{"domain":[0,1.02],"nice":false,"zero":false},"title":"t"},"y":{"field":"v","type":"quantitative","scale":{"domain":[0,1],"nice":false},"title":null}},
"layer":[
{"data":{"name":"curves"},"transform":[{"filter":{"field":"g","oneOf":["R","TrE","TgE","Se"]}}],"mark":{"type":"line","color":"black"},"encoding":{"detail":{"field":"g"},"strokeDash":{"field":"s","type":"nominal","scale":{"type":"ordinal","domain":["R","Tr","Tg","S","Smax","Pi"],"range":[[1,0],[7,4],[3,2.5],[1,0],[1,0],[3,2.5]]},"legend":null},"strokeWidth":{"field":"s","type":"nominal","scale":{"type":"ordinal","domain":["R","Tr","Tg","S","Smax","Pi"],"range":[1.2,1.1,1.1,3,1.3,1.1]},"legend":null}}},
{"data":{"name":"labels"},"transform":[{"filter":{"field":"p","equal":"eI"}}],"mark":{"type":"text"},"encoding":{"text":{"field":"text"},"size":{"field":"k","type":"nominal","scale":{"type":"ordinal","domain":["main","sub"],"range":[14,8]},"legend":null}}}
]},
{"width":296,"height":186,"title":{"text":"2/e/II.","dx":-7},
"encoding":{"x":{"field":"t","type":"quantitative","scale":{"domain":[0,1.02],"nice":false,"zero":false},"title":"t","axis":{"titleX":297}},"y":{"field":"v","type":"quantitative","scale":{"domain":[0,1],"nice":false},"title":null}},
"layer":[
{"data":{"name":"curves"},"transform":[{"filter":{"field":"g","oneOf":["Me","Pe","Se"]}}],"mark":{"type":"line","color":"black"},"encoding":{"detail":{"field":"g"},"strokeDash":{"field":"s","type":"nominal","scale":{"type":"ordinal","domain":["R","Tr","Tg","S","Smax","Pi"],"range":[[1,0],[7,4],[3,2.5],[1,0],[1,0],[3,2.5]]},"legend":null},"strokeWidth":{"field":"s","type":"nominal","scale":{"type":"ordinal","domain":["R","Tr","Tg","S","Smax","Pi"],"range":[1.2,1.1,1.1,3,1.3,1.1]},"legend":null}}},
{"data":{"name":"labels"},"transform":[{"filter":{"field":"p","equal":"eII"}}],"mark":{"type":"text"},"encoding":{"text":{"field":"text"},"size":{"field":"k","type":"nominal","scale":{"type":"ordinal","domain":["main","sub"],"range":[14,8]},"legend":null}}}
]}
],
"config": {
"view": {"stroke": null},
"axisX": {"domainColor":"black","domainWidth":1.5,"ticks":false,"labels":false,"grid":false,"titleFont":"Liberation Serif","titleFontStyle":"italic","titleFontSize":15,"titleFontWeight":"normal","titleColor":"black","titleAngle":0,"titleAlign":"left","titleBaseline":"middle","titleX":301,"titleY":-6},
"axisY": {"domainColor":"black","domainWidth":1.5,"ticks":false,"labels":false,"grid":false},
"title": {"anchor":"start","font":"DejaVu Sans","fontSize":13.5,"fontWeight":"normal","color":"black","offset":6,"baseline":"alphabetic","frame":"group"},
"text": {"font":"Liberation Serif","color":"black","align":"left","baseline":"alphabetic"},
"line": {"color":"black"}
}
}
